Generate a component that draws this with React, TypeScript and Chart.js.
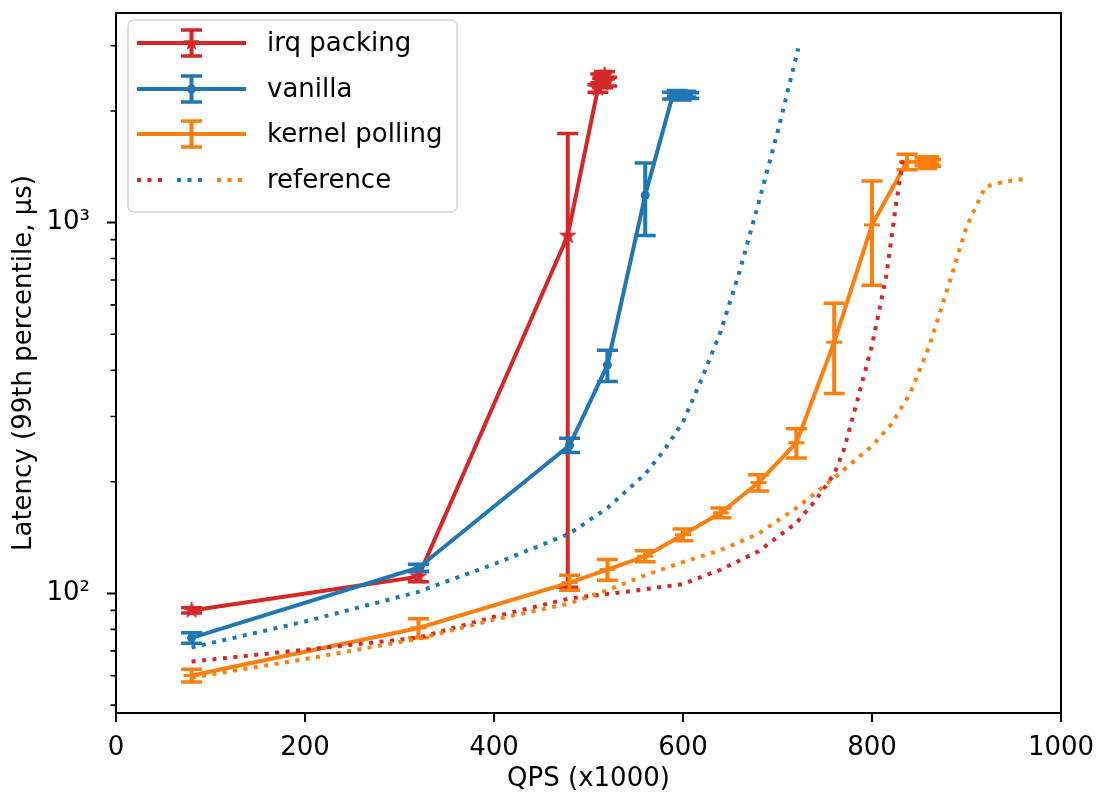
import React, { useEffect, useRef } from 'react';
import { Chart, registerables } from 'chart.js';
Chart.register(...registerables);

const RED = '#d62728';
const BLUE = '#1f77b4';
const ORANGE = '#ff7f0e';
const FONT = 'DejaVu Sans';

// irq packing (mean, symmetric error)
const irqX = [80, 320, 478, 510, 513, 515, 517, 519];
const irqY = [90, 111, 922, 2300, 2450, 2380, 2500, 2400];
const irqErr = [1.5, 3.5, 818, 55, 65, 70, 55, 65];

// vanilla
const vanX = [80, 320, 480, 520, 560, 589, 594, 598, 603, 606];
const vanY = [75.9, 117.3, 251, 413, 1185, 2200, 2230, 2190, 2220, 2200];
const vanErr = [2.5, 2.5, 11, 40, 262, 45, 40, 50, 40, 40];

// kernel polling
const kpX = [80, 320, 480, 520, 560, 600, 640, 680, 720, 760, 800, 837, 856, 858, 860, 862];
const kpY = [60.1, 80.7, 107, 116, 126, 144, 165, 199, 255, 476, 986, 1459, 1460, 1440, 1470, 1450];
const kpErr = [2.4, 4.7, 5, 7.5, 4.3, 5.3, 5, 10, 23, 130, 308, 70, 35, 40, 35, 30];

// reference curves (dotted)
const refRedX = [80, 200, 320, 400, 480, 540, 600, 640, 680, 720, 740, 760, 770, 785, 800, 815, 825, 833];
const refRedY = [65.5, 70.5, 76, 86.5, 97, 101, 106, 116, 130, 155, 178, 210, 243, 335, 467, 715, 1100, 1500];

const refBlueX = [80, 200, 320, 400, 480, 520, 560, 580, 600, 620, 640, 660, 680, 700, 722];
const refBlueY = [71.5, 84, 101, 120, 145, 170, 210, 243, 290, 380, 510, 740, 1130, 1750, 2950];

const refOrangeX = [80, 200, 320, 400, 480, 520, 560, 600, 640, 680, 720, 760, 800, 820, 840, 860, 880, 900, 920, 940, 960];
const refOrangeY = [59.3, 66.5, 75.5, 85, 94, 102, 112, 121.5, 131, 145, 170, 205, 250, 285, 345, 460, 665, 975, 1250, 1290, 1310];

// axes
const xMin = 0;
const xMax = 1000;
const xTicks = [0, 200, 400, 600, 800, 1000];
const yMin = 47.6;
const yMax = 3675;
const yMajorTicks = [100, 1000];
const yMajorLabels = ['10²', '10³'];
const yMinorTicks = [50, 60, 70, 80, 90, 200, 300, 400, 500, 600, 700, 800, 900, 2000, 3000];

const legendLabels = ['irq packing', 'vanilla', 'kernel polling', 'reference'];

function pts(xs: number[], ys: number[]) {
  return xs.map((x, i) => ({ x, y: ys[i] }));
}

function drawStarPath(g: CanvasRenderingContext2D, cx: number, cy: number, R: number) {
  const r = R * 0.381966;
  g.beginPath();
  for (let i = 0; i < 10; i++) {
    const a = -Math.PI / 2 + (i * Math.PI) / 5;
    const rr = i % 2 ? r : R;
    g.lineTo(cx + rr * Math.cos(a), cy + rr * Math.sin(a));
  }
  g.closePath();
}

function makeStar(color: string) {
  const c = document.createElement('canvas');
  const s = 22;
  c.width = s;
  c.height = s;
  const g = c.getContext('2d')!;
  drawStarPath(g, s / 2, s / 2, 8.5);
  g.fillStyle = color;
  g.fill();
  g.strokeStyle = color;
  g.lineWidth = 1;
  g.stroke();
  return c;
}

const errorBarPlugin = {
  id: 'errbars',
  afterDatasetDraw(chart: any, args: any) {
    const ds = chart.data.datasets[args.index];
    if (!ds.errors) return;
    const { ctx, chartArea, scales } = chart;
    const xs = scales.x;
    const ys = scales.y;
    ctx.save();
    ctx.beginPath();
    ctx.rect(chartArea.left, chartArea.top, chartArea.right - chartArea.left, chartArea.bottom - chartArea.top);
    ctx.clip();
    ctx.strokeStyle = ds.borderColor;
    ctx.lineCap = 'butt';
    ds.data.forEach((p: any, i: number) => {
      const e = ds.errors[i];
      const px = xs.getPixelForValue(p.x);
      const yTop = ys.getPixelForValue(p.y + e);
      const yBot = ys.getPixelForValue(p.y - e);
      ctx.lineWidth = 4;
      ctx.beginPath();
      ctx.moveTo(px, yBot);
      ctx.lineTo(px, yTop);
      ctx.stroke();
      ctx.lineWidth = 3.5;
      ctx.beginPath();
      ctx.moveTo(px - 10.5, yBot);
      ctx.lineTo(px + 10.5, yBot);
      ctx.moveTo(px - 10.5, yTop);
      ctx.lineTo(px + 10.5, yTop);
      ctx.stroke();
    });
    ctx.restore();
  },
};

const framePlugin = {
  id: 'frame',
  afterDraw(chart: any) {
    const { ctx, chartArea, scales } = chart;
    const { left, right, top, bottom } = chartArea;
    ctx.save();
    ctx.strokeStyle = '#000';
    ctx.lineWidth = 2;
    ctx.strokeRect(left, top, right - left, bottom - top);
    ctx.lineWidth = 2;
    ctx.beginPath();
    xTicks.forEach((v) => {
      const px = scales.x.getPixelForValue(v);
      ctx.moveTo(px, bottom);
      ctx.lineTo(px, bottom + 9);
    });
    yMajorTicks.forEach((v) => {
      const py = scales.y.getPixelForValue(v);
      ctx.moveTo(left, py);
      ctx.lineTo(left - 9, py);
    });
    ctx.stroke();
    ctx.lineWidth = 1.6;
    ctx.beginPath();
    yMinorTicks.forEach((v) => {
      const py = scales.y.getPixelForValue(v);
      ctx.moveTo(left, py);
      ctx.lineTo(left - 5.5, py);
    });
    ctx.stroke();

    // legend
    const bx = 128, by = 20, bw = 329, bh = 192, rad = 6;
    ctx.beginPath();
    ctx.moveTo(bx + rad, by);
    ctx.lineTo(bx + bw - rad, by);
    ctx.arcTo(bx + bw, by, bx + bw, by + rad, rad);
    ctx.lineTo(bx + bw, by + bh - rad);
    ctx.arcTo(bx + bw, by + bh, bx + bw - rad, by + bh, rad);
    ctx.lineTo(bx + rad, by + bh);
    ctx.arcTo(bx, by + bh, bx, by + bh - rad, rad);
    ctx.lineTo(bx, by + rad);
    ctx.arcTo(bx, by, bx + rad, by, rad);
    ctx.closePath();
    ctx.fillStyle = 'rgba(255,255,255,0.8)';
    ctx.fill();
    ctx.strokeStyle = '#d5d5d5';
    ctx.lineWidth = 1.5;
    ctx.stroke();

    const rows = [43, 89, 134, 180];
    const cols = [RED, BLUE, ORANGE];
    const hx0 = 137, hx1 = 246, hc = 191.5;
    for (let i = 0; i < 3; i++) {
      const y = rows[i];
      ctx.strokeStyle = cols[i];
      ctx.lineWidth = 4;
      ctx.beginPath();
      ctx.moveTo(hx0, y);
      ctx.lineTo(hx1, y);
      ctx.moveTo(hc, y - 13);
      ctx.lineTo(hc, y + 13);
      ctx.stroke();
      ctx.lineWidth = 3.5;
      ctx.beginPath();
      ctx.moveTo(hc - 10.5, y - 13);
      ctx.lineTo(hc + 10.5, y - 13);
      ctx.moveTo(hc - 10.5, y + 13);
      ctx.lineTo(hc + 10.5, y + 13);
      ctx.stroke();
      ctx.fillStyle = cols[i];
      if (i === 0) {
        drawStarPath(ctx, hc, y, 8.5);
        ctx.fill();
      } else if (i === 1) {
        ctx.beginPath();
        ctx.arc(hc, y, 4.5, 0, Math.PI * 2);
        ctx.fill();
      }
    }
    const segs = [
      [137, 163, RED],
      [177, 203, BLUE],
      [217, 243, ORANGE],
    ] as [number, number, string][];
    ctx.lineWidth = 4;
    ctx.setLineDash([4, 6.5]);
    segs.forEach(([a, b, c]) => {
      ctx.strokeStyle = c;
      ctx.beginPath();
      ctx.moveTo(a, rows[3]);
      ctx.lineTo(b, rows[3]);
      ctx.stroke();
    });
    ctx.setLineDash([]);

    ctx.fillStyle = '#000';
    ctx.font = `26px "${FONT}"`;
    ctx.textAlign = 'left';
    ctx.textBaseline = 'middle';
    legendLabels.forEach((t, i) => ctx.fillText(t, 267, rows[i] + 1));
    ctx.restore();
  },
};

function zeroPad(s: any) {
  s.paddingTop = 0;
  s.paddingBottom = 0;
  s.paddingLeft = 0;
  s.paddingRight = 0;
}

export default function App() {
  const ref = useRef<HTMLCanvasElement>(null);
  useEffect(() => {
    if (!ref.current) return;
    const star = makeStar(RED);
    const solid = (label: string, xs: number[], ys: number[], errs: number[], color: string, point: any, order: number) => ({
      label,
      data: pts(xs, ys),
      errors: errs,
      borderColor: color,
      backgroundColor: color,
      borderWidth: 4,
      showLine: true,
      tension: 0,
      order,
      ...point,
    });
    const dotted = (label: string, xs: number[], ys: number[], color: string, order: number) => ({
      label,
      data: pts(xs, ys),
      borderColor: color,
      backgroundColor: color,
      borderWidth: 4,
      borderDash: [4, 6.5],
      borderCapStyle: 'butt',
      showLine: true,
      tension: 0,
      pointRadius: 0,
      pointHoverRadius: 0,
      order,
    });
    const chart = new Chart(ref.current, {
      type: 'scatter',
      data: {
        datasets: [
          solid('irq packing', irqX, irqY, irqErr, RED, { pointStyle: star, pointRadius: 9 }, 6),
          solid('vanilla', vanX, vanY, vanErr, BLUE, { pointStyle: 'circle', pointRadius: 4.5, pointBorderWidth: 0 }, 5),
          solid('kernel polling', kpX, kpY, kpErr, ORANGE, { pointStyle: 'line', pointRadius: 8, pointBorderWidth: 3 }, 4),
          dotted('reference irq', refRedX, refRedY, RED, 3),
          dotted('reference vanilla', refBlueX, refBlueY, BLUE, 2),
          dotted('reference kernel', refOrangeX, refOrangeY, ORANGE, 1),
        ] as any,
      },
      options: {
        responsive: false,
        animation: false,
        events: [],
        layout: { padding: { left: 0, top: 5, right: 38, bottom: 0 } },
        plugins: { legend: { display: false }, tooltip: { enabled: false } },
        scales: {
          x: {
            type: 'linear',
            min: xMin,
            max: xMax,
            grid: { display: false },
            border: { display: false },
            afterFit: (s: any) => { s.height = 84; zeroPad(s); },
            afterBuildTicks: (s: any) => { s.ticks = xTicks.map((v) => ({ value: v })); },
            ticks: {
              autoSkip: false,
              maxRotation: 0,
              padding: 12,
              color: '#000',
              font: { family: FONT, size: 26 },
              callback: (v: any) => String(v),
            },
            title: {
              display: true,
              text: 'QPS (x1000)',
              color: '#000',
              font: { family: FONT, size: 26 },
              padding: { top: 0, bottom: 2 },
            },
          },
          y: {
            type: 'logarithmic',
            min: yMin,
            max: yMax,
            grid: { display: false },
            border: { display: false },
            afterFit: (s: any) => { s.width = 116; zeroPad(s); },
            afterBuildTicks: (s: any) => { s.ticks = yMajorTicks.map((v) => ({ value: v })); },
            ticks: {
              autoSkip: false,
              padding: 18,
              color: '#000',
              font: { family: FONT, size: 26 },
              callback: (v: any) => {
                const i = yMajorTicks.indexOf(Number(v));
                return i >= 0 ? yMajorLabels[i] : '';
              },
            },
            title: {
              display: true,
              text: 'Latency (99th percentile, µs)',
              color: '#000',
              font: { family: FONT, size: 26 },
              padding: { top: 9, bottom: 0 },
            },
          },
        },
      } as any,
      plugins: [errorBarPlugin, framePlugin] as any,
    });
    return () => chart.destroy();
  }, []);
  return (
    <div style={{ position: 'fixed', left: 0, top: 0, width: 1099, height: 797, background: '#fff' }}>
      <canvas ref={ref} width={1099} height={797} style={{ display: 'block' }} />
    </div>
  );
}
